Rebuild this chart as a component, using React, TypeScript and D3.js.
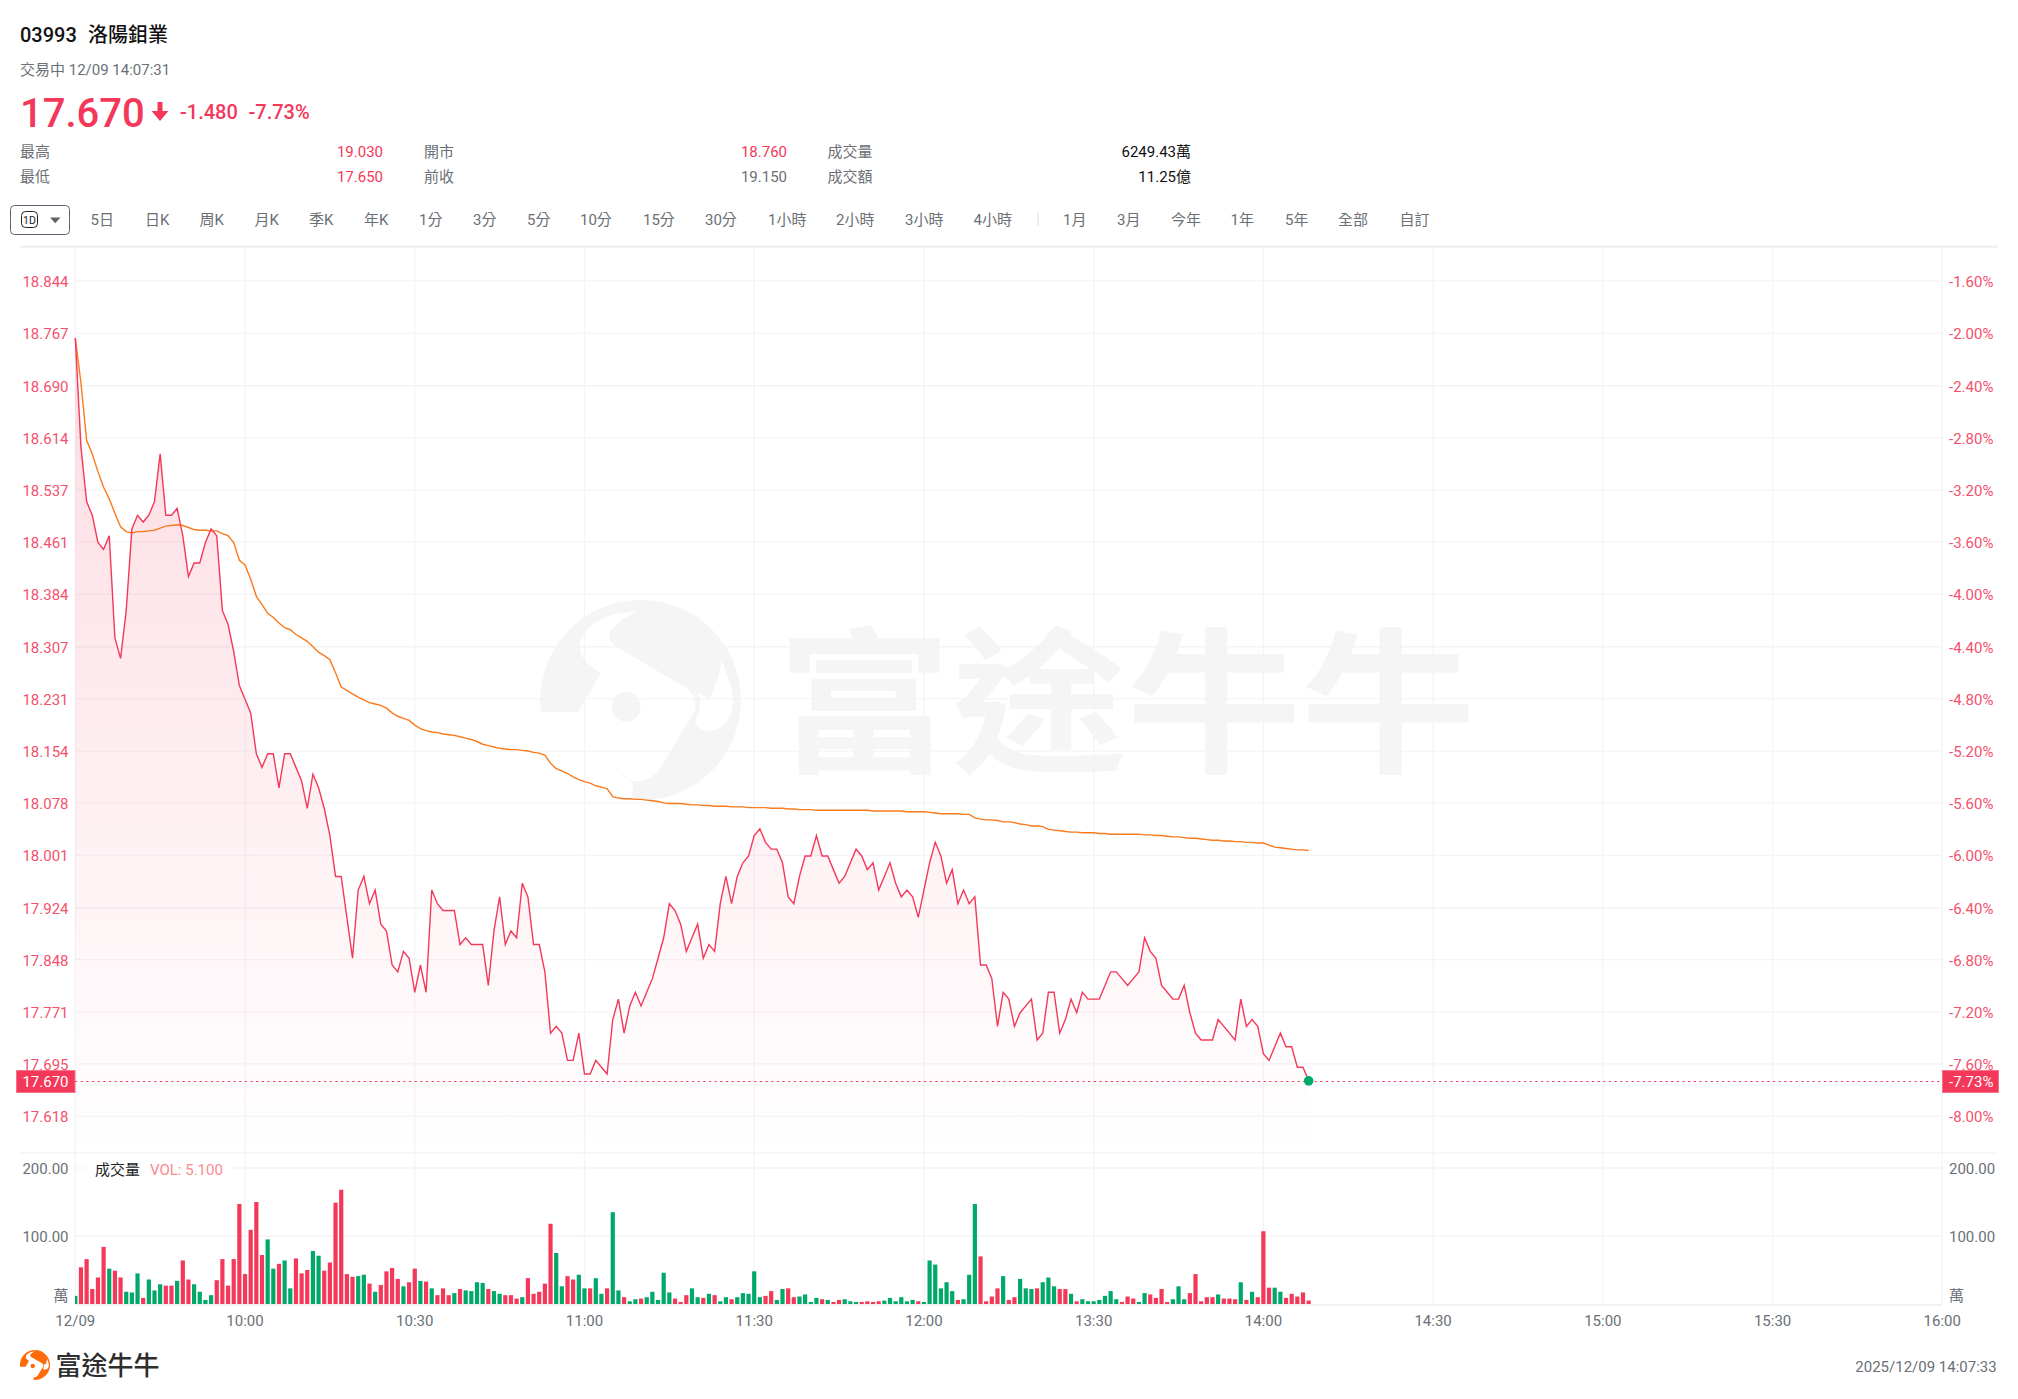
import React from 'react'
import * as d3 from 'd3'

const FONT = "Roboto, 'Noto Sans CJK TC', sans-serif"
const RED = '#f4385a'
const GREEN = '#00a96a'
const ORANGE = '#fb7a1c'
const GRAY = '#6b6f76'
const GRID = '#f4f4f6'
const LABEL_SIZE = 15

const toolbarLabels = [['5日', 90.6], ['日K', 145], ['周K', 199.5], ['月K', 254.5], ['季K', 309], ['年K', 364], ['1分', 419], ['3分', 473], ['5分', 527], ['10分', 580], ['15分', 643], ['30分', 705], ['1小時', 768], ['2小時', 836], ['3小時', 905], ['4小時', 973.5], ['1月', 1063], ['3月', 1117], ['今年', 1171], ['1年', 1230.6], ['5年', 1285], ['全部', 1338], ['自訂', 1399.5]] as [string, number][]

const priceTicks = [18.844, 18.767, 18.69, 18.614, 18.537, 18.461, 18.384, 18.307, 18.231, 18.154, 18.078, 18.001, 17.924, 17.848, 17.771, 17.695, 17.618]
const pctTicks = ['-1.60%', '-2.00%', '-2.40%', '-2.80%', '-3.20%', '-3.60%', '-4.00%', '-4.40%', '-4.80%', '-5.20%', '-5.60%', '-6.00%', '-6.40%', '-6.80%', '-7.20%', '-7.60%', '-8.00%']
const volumeTicks = [100, 200]
// minutes since the open, lunch break removed
const timeTicks = [[0, '12/09'], [30, '10:00'], [60, '10:30'], [90, '11:00'], [120, '11:30'], [150, '12:00'], [180, '13:30'], [210, '14:00'], [240, '14:30'], [270, '15:00'], [300, '15:30'], [330, '16:00']] as [number, string][]

const prices = [
  18.76, 18.6, 18.52, 18.5, 18.46, 18.45, 18.47, 18.32, 18.29, 18.36,
  18.48, 18.5, 18.49, 18.5, 18.52, 18.59, 18.5, 18.5, 18.51, 18.47,
  18.41, 18.43, 18.43, 18.46, 18.48, 18.47, 18.36, 18.34, 18.3, 18.25,
  18.23, 18.21, 18.15, 18.13, 18.15, 18.15, 18.1, 18.15, 18.15, 18.13,
  18.11, 18.07, 18.12, 18.1, 18.07, 18.03, 17.97, 17.97, 17.91, 17.85,
  17.95, 17.97, 17.93, 17.95, 17.9, 17.89, 17.84, 17.83, 17.86, 17.85,
  17.8, 17.84, 17.8, 17.95, 17.93, 17.92, 17.92, 17.92, 17.87, 17.88,
  17.87, 17.87, 17.87, 17.81, 17.89, 17.94, 17.87, 17.89, 17.88, 17.96,
  17.94, 17.87, 17.87, 17.83, 17.74, 17.75, 17.74, 17.7, 17.7, 17.74,
  17.68, 17.68, 17.7, 17.69, 17.68, 17.76, 17.79, 17.74, 17.78, 17.8,
  17.78, 17.8, 17.82, 17.85, 17.88, 17.93, 17.92, 17.9, 17.86, 17.88,
  17.9, 17.85, 17.87, 17.86, 17.93, 17.97, 17.93, 17.97, 17.99, 18.0,
  18.03, 18.04, 18.02, 18.01, 18.01, 17.99, 17.94, 17.93, 17.97, 18.0,
  18.0, 18.03, 18.0, 18.0, 17.98, 17.96, 17.97, 17.99, 18.01, 18.0,
  17.98, 17.99, 17.95, 17.97, 17.99, 17.96, 17.94, 17.95, 17.94, 17.91,
  17.95, 17.99, 18.02, 18.0, 17.96, 17.98, 17.93, 17.95, 17.93, 17.94,
  17.84, 17.84, 17.82, 17.75, 17.8, 17.79, 17.75, 17.77, 17.78, 17.79,
  17.73, 17.74, 17.8, 17.8, 17.74, 17.76, 17.79, 17.77, 17.8, 17.79,
  17.79, 17.79, 17.81, 17.83, 17.83, 17.82, 17.81, 17.82, 17.83, 17.88,
  17.86, 17.85, 17.81, 17.8, 17.79, 17.79, 17.81, 17.77, 17.74, 17.73,
  17.73, 17.73, 17.76, 17.75, 17.74, 17.73, 17.79, 17.75, 17.76, 17.75,
  17.71, 17.7, 17.72, 17.74, 17.72, 17.72, 17.69, 17.69, 17.67,
]

const averages = [
  18.76, 18.694, 18.61, 18.59, 18.564, 18.541, 18.524, 18.503, 18.483, 18.476,
  18.474, 18.476, 18.476, 18.477, 18.478, 18.481, 18.484, 18.485, 18.486, 18.485,
  18.482, 18.479, 18.478, 18.478, 18.477, 18.477, 18.473, 18.47, 18.46, 18.434,
  18.427, 18.406, 18.381, 18.369, 18.356, 18.35, 18.342, 18.335, 18.332, 18.325,
  18.32, 18.315, 18.307, 18.299, 18.294, 18.288, 18.269, 18.248, 18.243, 18.238,
  18.233, 18.229, 18.225, 18.223, 18.221, 18.217, 18.21, 18.205, 18.202, 18.199,
  18.192, 18.187, 18.184, 18.182, 18.181, 18.179, 18.178, 18.177, 18.175, 18.173,
  18.171, 18.168, 18.164, 18.162, 18.16, 18.158, 18.157, 18.156, 18.156, 18.155,
  18.154, 18.152, 18.151, 18.148, 18.136, 18.128, 18.125, 18.121, 18.116, 18.112,
  18.109, 18.107, 18.103, 18.101, 18.099, 18.087, 18.085, 18.084, 18.084, 18.083,
  18.083, 18.082, 18.081, 18.08, 18.078, 18.077, 18.077, 18.077, 18.076, 18.075,
  18.075, 18.074, 18.074, 18.073, 18.073, 18.073, 18.072, 18.072, 18.072, 18.071,
  18.071, 18.071, 18.071, 18.07, 18.07, 18.07, 18.069, 18.069, 18.068, 18.068,
  18.068, 18.067, 18.067, 18.067, 18.067, 18.067, 18.067, 18.067, 18.067, 18.067,
  18.067, 18.066, 18.066, 18.066, 18.066, 18.066, 18.066, 18.065, 18.065, 18.065,
  18.065, 18.064, 18.063, 18.062, 18.062, 18.062, 18.062, 18.061, 18.061, 18.056,
  18.054, 18.053, 18.053, 18.052, 18.05, 18.05, 18.049, 18.047, 18.046, 18.044,
  18.044, 18.043, 18.039, 18.038, 18.037, 18.036, 18.035, 18.035, 18.034, 18.034,
  18.034, 18.033, 18.033, 18.032, 18.032, 18.032, 18.032, 18.032, 18.032, 18.031,
  18.031, 18.03, 18.03, 18.029, 18.028, 18.028, 18.027, 18.026, 18.026, 18.025,
  18.024, 18.023, 18.023, 18.022, 18.022, 18.021, 18.021, 18.02, 18.02, 18.019,
  18.019, 18.016, 18.013, 18.012, 18.011, 18.01, 18.009, 18.009, 18.008,
]

const volumes = [
  12, 54, 66, 22, 39, 84, 52, 49, 39, 18,
  17, 45, 9, 36, 20, 29, 27, 27, 34, 64,
  36, 29, 18, 6, 13, 35, 66, 27, 66, 147,
  44, 109, 150, 72, 95, 52, 59, 64, 23, 67,
  45, 50, 78, 71, 49, 61, 149, 168, 44, 40,
  41, 43, 30, 18, 28, 48, 53, 37, 26, 32,
  52, 34, 33, 23, 13, 23, 13, 16, 22, 20,
  19, 32, 31, 22, 19, 15, 13, 13, 8, 10,
  38, 15, 18, 30, 118, 75, 26, 41, 36, 43,
  23, 23, 38, 15, 23, 135, 20, 10, 4, 7,
  8, 10, 18, 6, 46, 17, 8, 3, 13, 23,
  10, 9, 15, 13, 4, 10, 7, 10, 16, 15,
  48, 10, 12, 19, 6, 22, 23, 10, 11, 14,
  3, 9, 7, 6, 3, 6, 7, 4, 3, 3,
  4, 3, 4, 5, 9, 4, 10, 4, 6, 4,
  3, 64, 58, 23, 32, 19, 6, 7, 43, 147,
  70, 4, 11, 23, 41, 6, 10, 37, 23, 22,
  23, 32, 39, 26, 22, 22, 15, 4, 7, 4,
  4, 6, 12, 19, 7, 3, 11, 8, 3, 16,
  14, 9, 22, 3, 7, 26, 7, 16, 44, 4,
  10, 10, 14, 8, 8, 7, 32, 6, 18, 10,
  107, 24, 24, 18, 9, 15, 11, 17, 5.1,
]

// r = red bar, g = green bar
const volumeSides = (
  'grrrrrgrrg' + 'ggrgggrrgr' + 'rggggrrrrr' + 'rrrrggrggr' + 'rrggrrrrrr' +
  'ggrgrrrrgr' + 'rgrgrrrgrg' + 'gggrggrrrg' + 'rrrrrggrrg' + 'grggrggrgg' +
  'rgggggrrrg' + 'grgrggrggg' + 'ggrrggrrgg' + 'ggrgrrgggr' + 'rrrggggggr' +
  'ggggggrggg' + 'rrrrgrrggg' + 'rgggrrgrgg' + 'gggggrrrgg' + 'rrrrgggrrr' +
  'rrgrrrgrgr' + 'rrggrrrrr'
).split('')

const LOGO_PATHS = [
  'M541,712 A100,100 0 0 1 641,600 C 639,604 638,608 637,612 C 600,612 580,630 580,647 C 580,660 590,665 601,673 L 578,712 Z',
  'M641,600 A100,100 0 0 1 741,700 A100,100 0 0 1 632.6,800 L 632.6,783 L 618,770 C 625,780 632,782 640,781 C 650,780 655,775 659,770 L 694.5,711 C 697,702 694,694 685,687 L 618,648 C 610,642 607,636 610,632 C 616,623 626,616 637,612 Z',
]
const LOGO_HORN = 'M698,693 L710,698 C 715,685 722,670 721,660 C 728,675 733,690 733,700 C 733,720 722,731 707,731 C 700,730 697,726 694.5,723 C 700,712 702,703 698,693 Z'

function Logo({ fill, hole, transform }: { fill: string; hole: string; transform?: string }) {
  return (
    <g transform={transform}>
      {LOGO_PATHS.map((d, i) => <path key={i} d={d} fill={fill} />)}
      <path d={LOGO_HORN} fill={hole} />
      <ellipse cx={626} cy={706.7} rx={14.5} ry={15} fill={fill} />
    </g>
  )
}

export default function App() {
  const x = d3.scaleLinear().domain([0, 330]).range([75.3, 1942.3])
  const y = d3.scaleLinear().domain([18.767, 17.618]).range([333.3, 1116.3])
  const yVol = d3.scaleLinear().domain([0, 100]).range([1304, 1236])

  const priceLine = d3.line<number>().x((_, i) => x(i)).y(d => y(d))
  const priceArea = d3.area<number>().x((_, i) => x(i)).y0(1153).y1(d => y(d))
  const lastIndex = prices.length - 1
  const lastY = y(prices[lastIndex])
  const dashY = Math.round(lastY) + 0.5

  const text = { fontFamily: FONT } as React.CSSProperties

  return (
    <svg width={2018} height={1399} style={{ position: 'absolute', left: 0, top: 0, display: 'block', background: '#fff' }}>
      <defs>
        <linearGradient id="areaFill" gradientUnits="userSpaceOnUse" x1={0} x2={0} y1={333} y2={1153}>
          <stop offset="0" stopColor={RED} stopOpacity={0.18} />
          <stop offset="1" stopColor={RED} stopOpacity={0} />
        </linearGradient>
        <clipPath id="volClip"><rect x={75} y={1160} width={1868} height={146} /></clipPath>
      </defs>

      {/* header */}
      <g style={text}>
        <text x={20} y={42} fontSize={20} fontWeight={500} fill="#111">03993</text>
        <text x={88} y={42} fontSize={20} fontWeight={500} fill="#111">洛陽鉬業</text>
        <text x={20} y={75} fontSize={LABEL_SIZE} fill={GRAY}>交易中 12/09 14:07:31</text>
        <text x={20} y={126.5} fontSize={40} fontWeight={500} fill={RED}>17.670</text>
        <path d="M157.5,102 h5 v9 h6 l-8.5,10 l-8.5,-10 h6 Z" fill={RED} />
        <text x={180} y={119} fontSize={20} fontWeight={500} fill={RED}>-1.480</text>
        <text x={248.5} y={119} fontSize={20} fontWeight={500} fill={RED}>-7.73%</text>

        <text x={20} y={157} fontSize={LABEL_SIZE} fill={GRAY}>最高</text>
        <text x={383} y={157} fontSize={LABEL_SIZE} fill={RED} textAnchor="end">19.030</text>
        <text x={424} y={157} fontSize={LABEL_SIZE} fill={GRAY}>開市</text>
        <text x={787} y={157} fontSize={LABEL_SIZE} fill={RED} textAnchor="end">18.760</text>
        <text x={827.5} y={157} fontSize={LABEL_SIZE} fill={GRAY}>成交量</text>
        <text x={1191} y={157} fontSize={LABEL_SIZE} fill="#111" textAnchor="end">6249.43萬</text>

        <text x={20} y={182} fontSize={LABEL_SIZE} fill={GRAY}>最低</text>
        <text x={383} y={182} fontSize={LABEL_SIZE} fill={RED} textAnchor="end">17.650</text>
        <text x={424} y={182} fontSize={LABEL_SIZE} fill={GRAY}>前收</text>
        <text x={787} y={182} fontSize={LABEL_SIZE} fill={GRAY} textAnchor="end">19.150</text>
        <text x={827.5} y={182} fontSize={LABEL_SIZE} fill={GRAY}>成交額</text>
        <text x={1191} y={182} fontSize={LABEL_SIZE} fill="#111" textAnchor="end">11.25億</text>
      </g>

      {/* period toolbar */}
      <g style={text}>
        <rect x={10.5} y={205.5} width={59} height={29} rx={4} fill="#fff" stroke="#5a6472" />
        <rect x={21.5} y={211.5} width={16} height={16} rx={4} fill="#fff" stroke="#222" />
        <text x={29.5} y={223.5} fontSize={10.5} textAnchor="middle" fill="#222">1D</text>
        <path d="M50,217.5 h10.5 l-5.25,5.8 Z" fill="#5f6368" />
        {toolbarLabels.map(([label, lx]) => (
          <text key={label} x={lx} y={225} fontSize={LABEL_SIZE} fill={GRAY}>{label}</text>
        ))}
        <line x1={1038} x2={1038} y1={212} y2={226} stroke="#dfdfdf" />
      </g>

      <line x1={20} x2={1998} y1={246.8} y2={246.8} stroke="#efefef" strokeWidth={2} />

      {/* watermark */}
      <Logo fill="#f5f5f5" hole="#fff" />
      <text x={0} y={0} transform="translate(777,760) scale(1.12,1)" fontSize={156} fontWeight={700} fill="#f5f5f5" fontFamily="'Noto Sans CJK TC'">富途牛牛</text>

      {/* grid */}
      {timeTicks.map(([t]) => (
        <line key={t} x1={x(t)} x2={x(t)} y1={248} y2={1304} stroke={GRID} strokeWidth={1.3} />
      ))}
      {priceTicks.map(p => (
        <line key={p} x1={75} x2={1942.3} y1={y(p)} y2={y(p)} stroke={GRID} strokeWidth={1.3} />
      ))}
      {volumeTicks.map(v => (
        <line key={v} x1={75} x2={1942.3} y1={yVol(v)} y2={yVol(v)} stroke={GRID} strokeWidth={1.3} />
      ))}
      <line x1={20} x2={1998} y1={1153} y2={1153} stroke={GRID} strokeWidth={1.3} />
      <line x1={75} x2={1942.3} y1={1305} y2={1305} stroke="#f2f2f3" strokeWidth={2} />

      {/* price + average */}
      <path d={priceArea(prices) ?? ''} fill="url(#areaFill)" />
      <path d={priceLine(averages) ?? ''} fill="none" stroke={ORANGE} strokeWidth={1.4} />
      <path d={priceLine(prices) ?? ''} fill="none" stroke={RED} strokeWidth={1.4} />

      <line x1={75} x2={1942.3} y1={dashY} y2={dashY} stroke={RED} strokeWidth={1} strokeDasharray="2.2 3.46" />
      <circle cx={x(lastIndex)} cy={lastY} r={4.8} fill={GREEN} />

      {/* axis labels */}
      <g style={text} fontSize={LABEL_SIZE}>
        {priceTicks.map(p => (
          <text key={p} x={68.5} y={y(p) + 1} textAnchor="end" dominantBaseline="central" fill="#f4516c">{p.toFixed(3)}</text>
        ))}
        {priceTicks.map((p, i) => (
          <text key={p} x={1949} y={y(p) + 1} dominantBaseline="central" fill="#f4516c">{pctTicks[i]}</text>
        ))}
        {volumeTicks.map(v => (
          <text key={v} x={68.5} y={yVol(v) + 1} textAnchor="end" dominantBaseline="central" fill={GRAY}>{v.toFixed(2)}</text>
        ))}
        {volumeTicks.map(v => (
          <text key={v} x={1949} y={yVol(v) + 1} dominantBaseline="central" fill={GRAY}>{v.toFixed(2)}</text>
        ))}
        <text x={68.5} y={1296} textAnchor="end" dominantBaseline="central" fill={GRAY}>萬</text>
        <text x={1949} y={1296} dominantBaseline="central" fill={GRAY}>萬</text>
        {timeTicks.map(([t, label]) => (
          <text key={t} x={x(t)} y={1321} textAnchor="middle" dominantBaseline="central" fill={GRAY}>{label}</text>
        ))}

        <rect x={16.5} y={1070.5} width={58.5} height={22} fill={RED} stroke="#f8718a" />
        <text x={68.5} y={lastY + 1} textAnchor="end" dominantBaseline="central" fill="#fff">17.670</text>
        <rect x={1942.5} y={1070.5} width={56} height={22} fill={RED} stroke="#f8718a" />
        <text x={1949} y={lastY + 1} dominantBaseline="central" fill="#fff">-7.73%</text>
      </g>

      {/* volume */}
      <g clipPath="url(#volClip)">
        {volumes.map((v, i) => (
          <rect key={i} x={x(i) - 2.1} y={yVol(v)} width={4.2} height={yVol(0) - yVol(v)} fill={volumeSides[i] === 'r' ? RED : GREEN} />
        ))}
      </g>

      {/* volume legend */}
      <g style={text} fontSize={LABEL_SIZE}>
        <rect x={84} y={1160} width={150} height={20} fill="#fff" />
        <text x={95} y={1170} dominantBaseline="central" fill="#222">成交量</text>
        <text x={150} y={1170} dominantBaseline="central" fill="#fb8a90">VOL: 5.100</text>
      </g>

      {/* footer */}
      <Logo fill="#ff6a0a" hole="#fff" transform="translate(-61.15,1260) scale(0.15)" />
      <text x={55.5} y={1375} fontSize={26} fontWeight={500} fill="#2e2e2e" fontFamily="'Noto Sans CJK TC'">富途牛牛</text>
      <text x={1996.7} y={1371.5} fontSize={LABEL_SIZE} textAnchor="end" fill={GRAY} style={text}>2025/12/09 14:07:33</text>
    </svg>
  )
}
